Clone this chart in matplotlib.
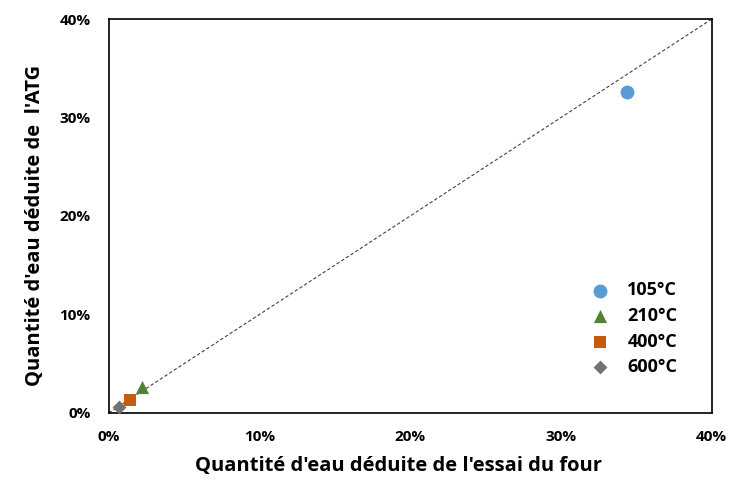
import matplotlib.pyplot as plt
from matplotlib.ticker import FuncFormatter

plt.rcParams['font.family'] = ['Open Sans', 'DejaVu Sans']
plt.rcParams['font.weight'] = 'bold'

labels = ['105°C', '210°C', '400°C', '600°C']
four = [0.344, 0.022, 0.014, 0.0066]
atg = [0.326, 0.026, 0.013, 0.006]
colors = ['#5b9bd5', '#548235', '#c55a11', '#767171']
markers = ['o', '^', 's', 'D']
sizes = [100, 90, 80, 50]

fig = plt.figure(figsize=(7.3, 4.88), dpi=100)
ax = fig.add_axes([0.149, 0.154, 0.826, 0.807])

ax.plot([0, 0.4], [0, 0.4], ls=(0, (3, 2)), color='#404040', lw=0.8, zorder=1)
for i in range(len(labels)):
    ax.scatter(four[i], atg[i], s=sizes[i], marker=markers[i], color=colors[i],
               label=labels[i], zorder=3, linewidths=0)

ax.set_xlim(0, 0.4)
ax.set_ylim(0, 0.4)
ax.set_xticks([0, 0.1, 0.2, 0.3, 0.4])
ax.set_yticks([0, 0.1, 0.2, 0.3, 0.4])
pct = FuncFormatter(lambda v, p: '%d%%' % round(v * 100))
ax.xaxis.set_major_formatter(pct)
ax.yaxis.set_major_formatter(pct)
ax.tick_params(labelsize=11, length=0)
ax.tick_params(axis='x', pad=12)
ax.tick_params(axis='y', pad=13)
for s in ax.spines.values():
    s.set_linewidth(1.2)

ax.set_xlabel("Quantité d'eau déduite de l'essai du four", fontsize=14.5,
              fontweight='bold')
ax.set_ylabel("Quantité d'eau déduite de  l'ATG", fontsize=14.5,
              fontweight='bold')
ax.xaxis.set_label_coords(0.481, -0.11)
ax.yaxis.set_label_coords(-0.105, 0.475)

ax.legend(loc='upper right', bbox_to_anchor=(0.97, 0.375), frameon=False,
          fontsize=13, handletextpad=0.5, labelspacing=0.42, scatterpoints=1)

fig.savefig('out.png', dpi=100)
